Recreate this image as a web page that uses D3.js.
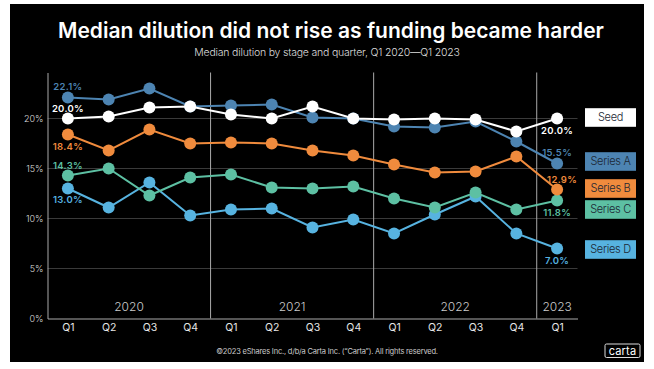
<!DOCTYPE html>
<html lang='en'>
<head>
  <title>Median dilution</title>
  <script src='https://cdn.jsdelivr.net/npm/d3@7'></script>
  <style>
    body { margin: 0; background: #fff; }
    text { font-family: Inter, "Noto Sans", sans-serif; }
  </style>
</head>
<body>
  <script>
    // quarters along the x axis, Q1 2020 .. Q1 2023
    const quarters = ["Q1", "Q2", "Q3", "Q4", "Q1", "Q2", "Q3", "Q4", "Q1", "Q2", "Q3", "Q4", "Q1"];
    const years = ["2020", "2021", "2022", "2023"];
    const yearStart = [0, 4, 8, 12]; // index of first quarter of each year
    const yTicks = [0, 5, 10, 15, 20];

    // median dilution (%) per series
    const seed    = [20.0, 20.2, 21.1, 21.2, 20.4, 20.0, 21.2, 20.0, 19.9, 20.0, 19.9, 18.7, 20.0];
    const seriesA = [22.1, 21.9, 23.0, 21.2, 21.3, 21.4, 20.1, 20.0, 19.2, 19.1, 19.7, 17.7, 15.5];
    const seriesB = [18.4, 16.8, 18.9, 17.5, 17.6, 17.5, 16.8, 16.3, 15.4, 14.6, 14.7, 16.2, 12.9];
    const seriesC = [14.3, 15.0, 12.3, 14.1, 14.4, 13.1, 13.0, 13.2, 12.0, 11.1, 12.6, 10.9, 11.8];
    const seriesD = [13.0, 11.1, 13.6, 10.3, 10.9, 11.0, 9.1, 9.9, 8.5, 10.4, 12.2, 8.5, 7.0];

    const names = ["Seed", "Series A", "Series B", "Series C", "Series D"];
    const values = [seed, seriesA, seriesB, seriesC, seriesD];

    const colors = {
      "Seed": "#ffffff", "Series A": "#4d84b2", "Series B": "#f08b3d",
      "Series C": "#5dc0a3", "Series D": "#57b3e0"
    };
    // where the start / end value labels sit relative to their dot
    const startDy = { "Seed": -10, "Series A": -11, "Series B": 12, "Series C": -10, "Series D": 11 };
    const endDy = { "Seed": 12, "Series A": -11, "Series B": -10, "Series C": 12, "Series D": 12 };
    const endDx = { "Seed": 0, "Series A": 0, "Series B": 5, "Series C": 0, "Series D": 0 };
    // legend box centres, in value units, nudged apart where they would collide
    const legendAt = { "Seed": 20.1, "Series A": 15.7, "Series B": 13.0, "Series C": 10.9, "Series D": 6.9 };

    const W = 654, H = 369;
    const svg = d3.select("body").append("svg")
      .attr("width", W).attr("height", H);

    svg.append("rect")
      .attr("x", 10).attr("y", 4).attr("width", 634).attr("height", 358)
      .attr("fill", "#000");

    const x = d3.scalePoint()
      .domain(d3.range(quarters.length))
      .range([47.5, 577.5])
      .padding(0.5);
    const step = x.step();
    const y = d3.scaleLinear().domain([0, 24.6]).range([318.5, 72.5]);

    // title
    svg.append("text").text("Median dilution did not rise as funding became harder")
      .attr("x", 331).attr("y", 38)
      .attr("text-anchor", "middle")
      .attr("fill", "#fff").attr("font-size", 21).attr("font-weight", 600);
    svg.append("text").text("Median dilution by stage and quarter, Q1 2020\u2014Q1 2023")
      .attr("x", 327).attr("y", 56)
      .attr("text-anchor", "middle")
      .attr("fill", "#ddd").attr("font-size", 10.5).attr("font-weight", 300)
      .attr("letter-spacing", -0.2);

    // grid lines
    svg.append("g").selectAll("line").data(yTicks.filter(d => d > 0)).join("line")
      .attr("x1", 47.5).attr("x2", 577.5)
      .attr("y1", d => y(d)).attr("y2", d => y(d))
      .attr("stroke", "#3a3a3a").attr("stroke-width", 1);

    // y axis
    const yAxis = d3.axisLeft(y).tickValues(yTicks).tickFormat(d => d + "%").tickSize(0).tickPadding(4);
    const yAxisG = svg.append("g").attr("transform", "translate(47.5,0)").call(yAxis);
    yAxisG.select(".domain").attr("stroke", "#aaa");
    yAxisG.selectAll("text").attr("fill", "#ddd").attr("font-size", 9).attr("font-weight", 300)
      .attr("font-family", "Inter, sans-serif");

    // year separators
    svg.append("g").selectAll("line").data(yearStart.slice(1)).join("line")
      .attr("x1", d => x(d) - step / 2).attr("x2", d => x(d) - step / 2)
      .attr("y1", y(24.6)).attr("y2", y(0))
      .attr("stroke", "#aaa").attr("stroke-width", 1);

    // year labels
    svg.append("g").selectAll("text").data(years).join("text")
      .text(d => d)
      .attr("x", (d, i) => {
        const a = x(yearStart[i]) - step / 2;
        const b = i < years.length - 1 ? x(yearStart[i + 1]) - step / 2 : x(quarters.length - 1) + step / 2;
        return (a + b) / 2;
      })
      .attr("y", 311)
      .attr("text-anchor", "middle")
      .attr("fill", "#ccc").attr("font-size", 12).attr("font-weight", 300);

    // x axis
    const xAxis = d3.axisBottom(x).tickFormat(i => quarters[i]).tickSize(0).tickPadding(5);
    const xAxisG = svg.append("g").attr("transform", `translate(0,${y(0)})`).call(xAxis);
    xAxisG.select(".domain").attr("stroke", "#aaa");
    xAxisG.selectAll("text").attr("fill", "#e6e6e6").attr("font-size", 10.5).attr("font-weight", 400)
      .attr("font-family", "Inter, sans-serif");

    // lines and dots, drawn so Seed ends up on top
    const line = d3.line().x((d, i) => x(i)).y(d => y(d));
    const order = ["Series D", "Series C", "Series B", "Series A", "Seed"];
    order.forEach(name => {
      const data = values[names.indexOf(name)];
      const g = svg.append("g");
      g.append("path").attr("d", line(data))
        .attr("fill", "none").attr("stroke", colors[name]).attr("stroke-width", 2);
      g.selectAll("circle").data(data).join("circle")
        .attr("cx", (d, i) => x(i)).attr("cy", d => y(d)).attr("r", 6)
        .attr("fill", colors[name]);
    });

    // start / end value labels
    const fmt = d3.format(".1f");
    names.forEach((name, k) => {
      const data = values[k];
      const last = data.length - 1;
      svg.append("text").text(fmt(data[0]) + "%")
        .attr("x", x(0)).attr("y", y(data[0]) + startDy[name])
        .attr("dy", "0.35em").attr("text-anchor", "middle")
        .attr("fill", colors[name]).attr("font-size", 9.5).attr("font-weight", 600)
        .attr("letter-spacing", 0.3);
      svg.append("text").text(fmt(data[last]) + "%")
        .attr("x", x(last) + endDx[name]).attr("y", y(data[last]) + endDy[name])
        .attr("dy", "0.35em").attr("text-anchor", "middle")
        .attr("fill", colors[name]).attr("font-size", 9.5).attr("font-weight", 600)
        .attr("letter-spacing", 0.3);
    });

    // legend boxes
    const legend = svg.append("g").selectAll("g").data(names).join("g")
      .attr("transform", d => `translate(585,${y(legendAt[d]) - 9.3})`);
    legend.append("rect")
      .attr("width", 51).attr("height", 18.6)
      .attr("fill", d => colors[d]);
    legend.append("text").text(d => d)
      .attr("x", 25.5).attr("y", 9.3).attr("dy", "0.35em")
      .attr("text-anchor", "middle")
      .attr("fill", "#1c2733").attr("font-size", 11).attr("font-weight", 300)
      .attr("letter-spacing", -0.3);

    // footer
    svg.append("text").text("\u00a92023 eShares Inc., d/b/a Carta Inc. (\u201cCarta\u201d). All rights reserved.")
      .attr("x", 327).attr("y", 351).attr("dy", "0.35em")
      .attr("text-anchor", "middle")
      .attr("fill", "#ccc").attr("font-size", 7.5).attr("letter-spacing", -0.2);

    const logo = svg.append("g").attr("transform", "translate(605,344)");
    logo.append("rect").attr("width", 35).attr("height", 13.5).attr("rx", 1.5)
      .attr("fill", "none").attr("stroke", "#ddd").attr("stroke-width", 1);
    logo.append("text").text("carta")
      .attr("x", 17.5).attr("y", 7).attr("dy", "0.35em").attr("text-anchor", "middle")
      .attr("fill", "#fff").attr("font-size", 11).attr("letter-spacing", 0.2);
  </script>
</body>
</html>
